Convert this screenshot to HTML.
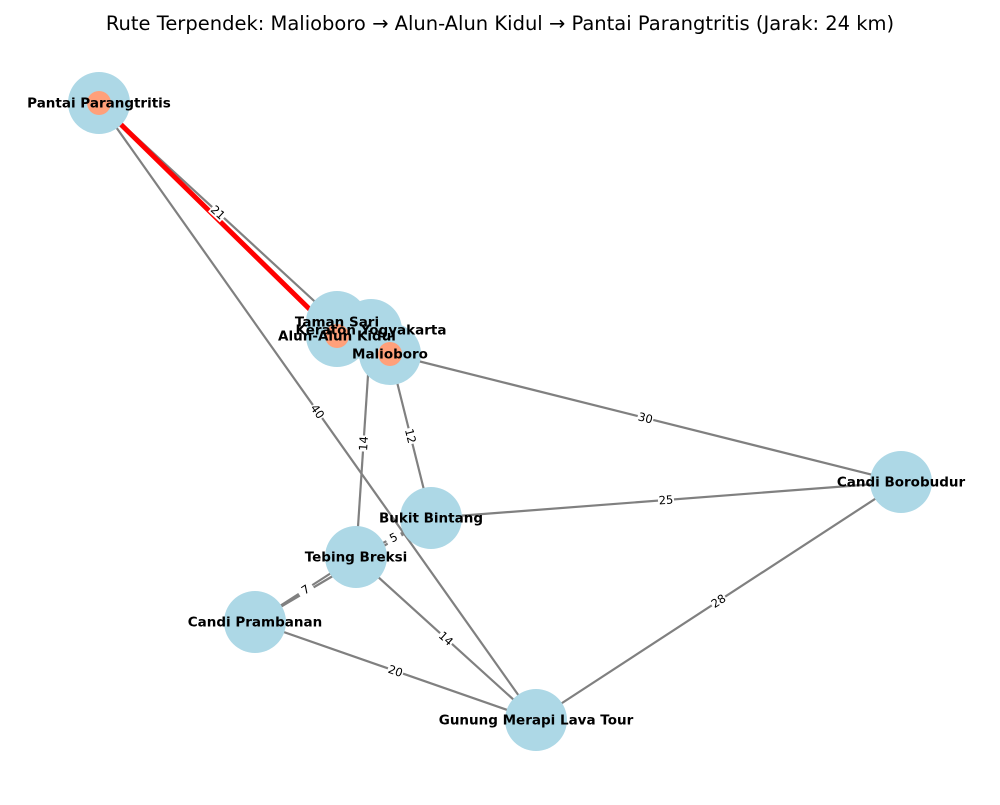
<!DOCTYPE html>
<html><head><meta charset="utf-8"><style>
body{margin:0;background:#fff}
svg{font-family:"DejaVu Sans","Liberation Sans",sans-serif}
</style></head><body>
<svg width="1000" height="800">
<text x="500" y="30" text-anchor="middle" font-size="19.5">Rute Terpendek: Malioboro → Alun-Alun Kidul → Pantai Parangtritis (Jarak: 24 km)</text>
<g id="edges"></g><g id="elabels"></g><g id="nodes"></g><g id="nlabels"></g>
</svg>
<script>
const nodeNames=["Pantai Parangtritis","Taman Sari","Alun-Alun Kidul","Keraton Yogyakarta","Malioboro","Bukit Bintang","Tebing Breksi","Candi Prambanan","Gunung Merapi Lava Tour","Candi Borobudur"];
const nodeX=[99,337,337,371,390,431,356,255,536,901];
const nodeY=[103,322,336,330,354,518,557,622,720,482];
const edgeFrom=[0,0,4,4,3,5,5,6,7,6,7,8,2,0];
const edgeTo=[1,8,9,5,6,9,6,7,5,8,8,9,4,2];
const edgeWeights=[21,40,30,12,14,25,5,7,null,14,20,28,null,null];
const pathNodes=[4,2,0];
const NS="http://www.w3.org/2000/svg";
function mk(t,a,p){const e=document.createElementNS(NS,t);for(const k in a)e.setAttribute(k,a[k]);document.getElementById(p).appendChild(e);return e;}
const onPath=(a,b)=>{for(let i=0;i<pathNodes.length-1;i++){const u=pathNodes[i],v=pathNodes[i+1];if((u==a&&v==b)||(u==b&&v==a))return true;}return false;};
edgeFrom.forEach((a,i)=>{const b=edgeTo[i];const red=onPath(a,b);
 const l=mk('line',{x1:nodeX[a],y1:nodeY[a],x2:nodeX[b],y2:nodeY[b],stroke:red?'#ff0000':'#808080','stroke-width':red?5:2.2},'edges');
 
 
 if(edgeWeights[i]!=null){const mx=(nodeX[a]+nodeX[b])/2,my=(nodeY[a]+nodeY[b])/2;
  let ang=Math.atan2(nodeY[b]-nodeY[a],nodeX[b]-nodeX[a])*180/Math.PI;if(ang>90)ang-=180;if(ang<-90)ang+=180;
  const bg=mk('rect',{x:mx-8,y:my-7,width:16,height:13,fill:'#fff',transform:`rotate(${ang} ${mx} ${my})`},'elabels');
  
  
  const t=mk('text',{x:mx,y:my+4,'text-anchor':'middle','font-size':11.5,transform:`rotate(${ang} ${mx} ${my})`},'elabels');
  t.textContent=edgeWeights[i];
  
  }
});
nodeNames.forEach((n,i)=>{const c=mk('circle',{cx:nodeX[i],cy:nodeY[i],r:31,fill:'#add8e6'},'nodes');
 
 });
pathNodes.forEach(i=>{const c=mk('circle',{cx:nodeX[i],cy:nodeY[i],r:12,fill:'#ffa07a'},'nodes');
 
 });
nodeNames.forEach((n,i)=>{const t=mk('text',{x:nodeX[i],y:nodeY[i]+4.5,'text-anchor':'middle','font-size':13.5,'font-weight':'bold'},'nlabels');
 t.textContent=n;
 
 });
</script>
</body></html>
